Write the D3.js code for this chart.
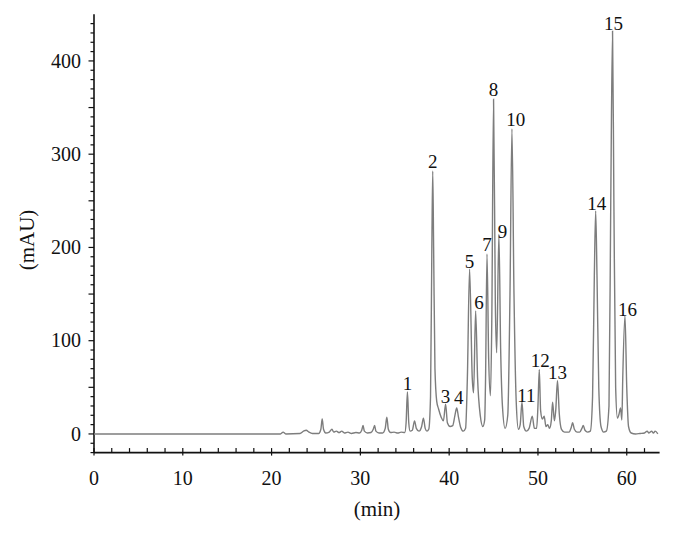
<!DOCTYPE html>
<html><head><meta charset="utf-8">
<script src="https://cdn.jsdelivr.net/npm/d3@7"></script>
<style>body{margin:0;background:#fff}svg{display:block}text{font-family:"Liberation Serif","DejaVu Serif",serif;fill:#111}</style>
</head><body><svg id="c" width="675" height="533"></svg>
<script>
// Chromatogram trace: retention time (min) and absorbance (mAU)
const traceTime = [0,21.0,21.3,21.6,23.2,23.6,23.9,24.2,24.6,25.3,25.55,25.7,25.85,26.1,26.5,26.8,27.0,27.3,27.6,27.9,28.2,28.6,29.0,29.5,29.9,30.15,30.3,30.45,30.8,31.2,31.45,31.6,31.75,32.1,32.5,32.8,32.98,33.15,33.4,33.8,34.2,34.6,35.0,35.15,35.3,35.45,35.6,35.85,36.1,36.3,36.6,36.9,37.1,37.3,37.5,37.7,37.9,38.05,38.15,38.25,38.4,38.6,38.8,39.1,39.35,39.6,39.8,40.1,40.4,40.65,40.85,41.05,41.3,41.6,41.85,42.05,42.3,42.6,42.75,42.98,43.2,43.5,43.8,44.0,44.1,44.26,44.45,44.65,44.8,45.0,45.2,45.35,45.6,45.8,46.0,46.3,46.6,46.85,47.07,47.3,47.55,47.8,48.0,48.2,48.4,48.7,49.0,49.36,49.6,49.85,50.0,50.15,50.3,50.5,50.7,50.9,51.1,51.3,51.5,51.65,51.85,52.0,52.2,52.4,52.65,53.0,53.5,53.75,53.9,54.1,54.4,54.7,54.95,55.1,55.3,55.6,55.9,56.15,56.35,56.5,56.65,56.85,57.1,57.4,57.7,58.0,58.2,58.4,58.55,58.75,58.95,59.15,59.3,59.45,59.55,59.8,60.0,60.2,60.5,61.0,61.5,62.0,62.3,62.5,62.8,63.0,63.2,63.5];
const traceValue = [0,0,2,0,0.5,3,4,2,0.5,0.5,5,16,5,1,2,5,2,3,1.5,3,1,2,0.5,1.5,1,4,9,3,1,1.5,5,9,3,1,1,6,18,5,1.5,2,1,2,1.5,12,45,12,3,4,14,6,3,8,17,6,3,5,40,200,282,200,70,35,27,18,14,32,12,8,9,20,28,18,7,3,6,60,177,60,44,132,60,20,8,15,60,193,80,41,120,359,140,87,214,90,30,6,20,150,327,150,35,5,10,34,8,3,6,19,6,6,30,69,25,16,19,8,10,6,14,34,14,25,57,22,5,2,2,7,12,5,2,2,6,9,4,2,3,40,170,239,170,50,8,2,3,30,250,432,250,50,17,22,28,15,60,127,50,8,1,0,0.5,1,3,1,3,1,3,0];
// Peak labels: number, apex time, apex value
const peakNames = ["1","2","3","4","5","6","7","8","9","10","11","12","13","14","15","16"];
const peakTime = [35.3,38.15,39.6,40.85,42.3,42.98,44.26,45.0,45.6,47.07,48.2,50.15,52.2,56.5,58.4,59.8];
const peakValue = [45,282,32,28,177,132,193,359,214,327,34,69,57,239,432,127];
const xTicks = [0,10,20,30,40,50,60];
const yTicks = [0,100,200,300,400];

// label offsets in px (style, not data)
const labDx = [0,0,0,2,0,3.5,0,0,3.5,3.7,4.5,1,0,1,1,2.5];
const labDy = [-2,-3,-1,-4,-1,-2,-3,-3,4,-3,0,-3,-2,-1,-1,0];

const svg = d3.select("#c");
const x = d3.scaleLinear().domain([0,63.7]).range([94,659.6]);
const y = d3.scaleLinear().domain([-20,450]).range([452.6,14.3]);

const g = svg.append("g");
// axes lines
g.append("line").attr("x1",94).attr("x2",94).attr("y1",y(450)).attr("y2",y(-20)).attr("stroke","#111").attr("stroke-width",1.6);
g.append("line").attr("x1",94).attr("x2",x(63.7)).attr("y1",y(-20)).attr("y2",y(-20)).attr("stroke","#111").attr("stroke-width",1.6);

// y ticks every 10
const yMinor = d3.range(-20,450,10);
g.selectAll(".ym").data(yMinor).join("line")
  .attr("x1",d=> d%50===0 ? 88.5 : 90.5).attr("x2",94)
  .attr("y1",d=>y(d)).attr("y2",d=>y(d)).attr("stroke","#111").attr("stroke-width",1.2);
g.selectAll(".yl").data(yTicks).join("text")
  .attr("x",81).attr("y",d=>y(d)).attr("dy","0.34em").attr("text-anchor","end")
  .attr("font-size",20).text(d=>d);

// x ticks every 2
const xMinor = d3.range(0,64,2);
g.selectAll(".xm").data(xMinor).join("line")
  .attr("x1",d=>x(d)).attr("x2",d=>x(d))
  .attr("y1",y(-20)-4.5).attr("y2",d=> d%10===0 ? y(-20)+3 : y(-20))
  .attr("stroke","#111").attr("stroke-width",1.2);
g.selectAll(".xl").data(xTicks).join("text")
  .attr("x",d=>x(d)).attr("y",485).attr("text-anchor","middle")
  .attr("font-size",20).text(d=>d);

// axis titles
g.append("text").attr("x",377).attr("y",516).attr("text-anchor","middle").attr("font-size",21).text("(min)");
g.append("text").attr("transform","translate(34,240) rotate(-90)").attr("text-anchor","middle").attr("font-size",21).text("(mAU)");

// trace
const pts = traceTime.map((t,i)=>[t,traceValue[i]]);
g.append("path").datum(pts)
  .attr("d", d3.line().x(d=>x(d[0])).y(d=>y(d[1])).curve(d3.curveMonotoneX))
  .attr("fill","none").attr("stroke","#7d7d7d").attr("stroke-width",1.4);

// peak labels
g.selectAll(".pl").data(peakNames).join("text")
  .attr("x",(d,i)=>x(peakTime[i])+labDx[i]).attr("y",(d,i)=>y(peakValue[i])+labDy[i])
  .attr("text-anchor","middle").attr("font-size",19).text(d=>d);
</script></body></html>
